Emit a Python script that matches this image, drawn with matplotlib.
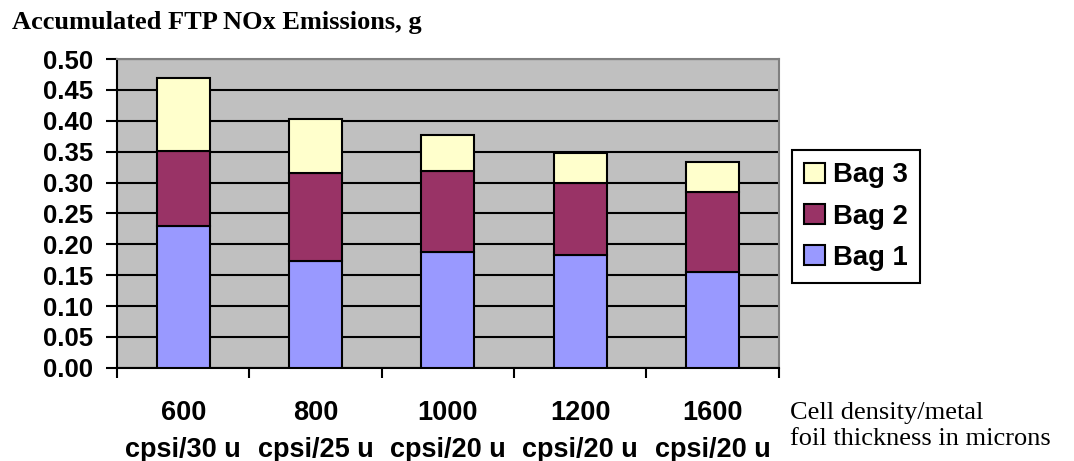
import numpy as np
import matplotlib
matplotlib.use('Agg')
import matplotlib.pyplot as plt

# Chart data
categories = ['600\ncpsi/30 u', '800\ncpsi/25 u', '1000\ncpsi/20 u', '1200\ncpsi/20 u', '1600\ncpsi/20 u']
bag1 = [0.230, 0.173, 0.188, 0.183, 0.155]
bag2 = [0.121, 0.142, 0.130, 0.116, 0.129]
bag3 = [0.118, 0.088, 0.059, 0.049, 0.049]
yticks = [0.00, 0.05, 0.10, 0.15, 0.20, 0.25, 0.30, 0.35, 0.40, 0.45, 0.50]

fig = plt.figure(figsize=(10.74, 4.61), dpi=100)
ax = fig.add_axes([0.109, 0.202, 0.616, 0.670])
ax.set_facecolor('#C0C0C0')

x = np.arange(len(categories))
b1 = np.array(bag1)
b2 = np.array(bag2)
b3 = np.array(bag3)

ax.set_axisbelow(True)
ax.yaxis.grid(True, color='black', linewidth=1.5)
kw = dict(width=0.4, edgecolor='black', linewidth=1.5, zorder=3)
h1 = ax.bar(x, b1, color='#9999FF', label='Bag 1', **kw)
h2 = ax.bar(x, b2, bottom=b1, color='#993366', label='Bag 2', **kw)
h3 = ax.bar(x, b3, bottom=b1 + b2, color='#FFFFCC', label='Bag 3', **kw)

ax.set_xlim(-0.5, len(categories) - 0.5)
ax.set_ylim(0, 0.5)
ax.set_yticks(yticks)
ax.set_yticklabels([f'{v:.2f}' for v in yticks], fontsize=18.5, fontweight='bold',
                   family='Liberation Sans')
ax.tick_params(axis='y', length=8, width=1.5, pad=9)

ax.set_xticks(x)
ax.set_xticklabels(categories, fontsize=19.5, fontweight='bold', family='Liberation Sans',
                   linespacing=1.55)
ax.tick_params(axis='x', which='major', length=0, pad=23)
ax.set_xticks(np.arange(len(categories) + 1) - 0.5, minor=True)
ax.tick_params(axis='x', which='minor', length=7, width=1.5)

for side in ['top', 'right']:
    ax.spines[side].set_color('#808080')
    ax.spines[side].set_linewidth(1.5)
for side in ['left', 'bottom']:
    ax.spines[side].set_color('black')
    ax.spines[side].set_linewidth(1.5)

leg = fig.legend(handles=[h3, h2, h1], loc='upper left', bbox_to_anchor=(0.7374, 0.6746),
                 prop={'family': 'Liberation Sans', 'weight': 'bold', 'size': 19.8},
                 fancybox=False, edgecolor='black', framealpha=1, borderaxespad=0,
                 handlelength=0.75, handleheight=0.75, handletextpad=0.3,
                 labelspacing=0.55, borderpad=0.45)
leg.get_frame().set_linewidth(1.5)

fig.text(0.011, 0.952, 'Accumulated FTP NOx Emissions, g', fontsize=19, fontweight='bold',
         family='Liberation Serif', va='center')
fig.text(0.736, 0.076, 'Cell density/metal\nfoil thickness in microns', fontsize=19,
         family='Liberation Serif', va='center', linespacing=1.2)

fig.savefig('out.png', dpi=100)
